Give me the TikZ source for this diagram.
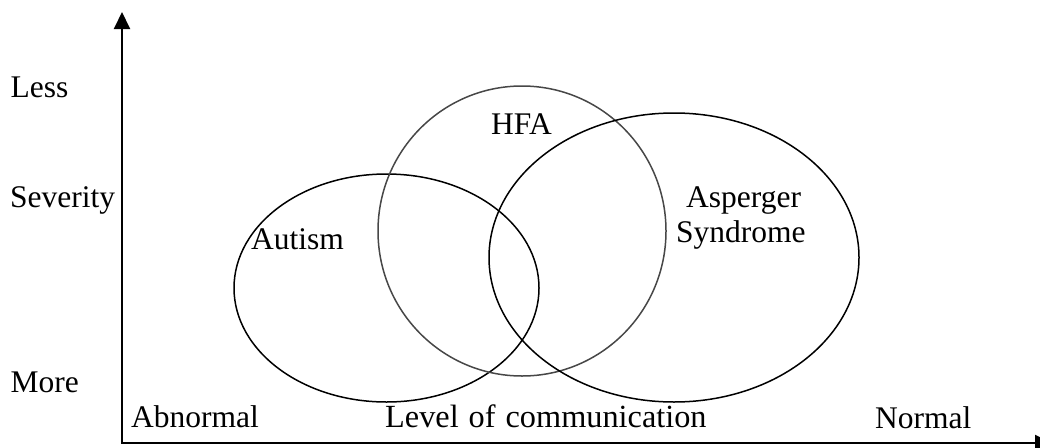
\documentclass[tikz,border=0pt]{standalone}
\usepackage{fontspec}
\setmainfont{Liberation Serif}
\usetikzlibrary{shapes.geometric,arrows.meta}
\begin{document}
\begin{tikzpicture}[x=1pt,y=-1pt,
  lbl/.style={anchor=base west,inner sep=0pt,font=\fontsize{31.5}{35}\selectfont},
  set/.style={ellipse,draw,line width=1.5pt,inner sep=0pt},
  axis/.style={line width=2pt,-{Triangle[width=16pt,length=17pt]}}]
\useasboundingbox (0,0) rectangle (1040,447);
\coordinate (origin) at (122,443);
\coordinate (ytop) at (122,12);
\coordinate (xend) at (1052,443);
\draw[axis] (origin.center) -- (ytop);
\draw[axis] ([xshift=-1pt]origin.center) -- (xend);
\node[set,minimum width=305pt,minimum height=228pt] (autism) at (386.5,288) {};
\node[set,draw=black!72,minimum width=288pt,minimum height=290pt] (hfa) at (522,231) {};
\node[set,minimum width=370pt,minimum height=289pt] (asp) at (674,257.5) {};
\node[lbl] (less) at (10.5,97) {Less};
\node[lbl] (sev) at (10,207) {Severity};
\node[lbl] (more) at (10.5,392) {More};
\node[lbl] (abn) at (131,427) {Abnormal};
\node[lbl] (loc) at (385,427) {\fontsize{32.3}{35}\selectfont Level\hspace{10pt}of\hspace{10pt}communication};
\node[lbl] (norm) at (875,428) {Normal};
\node[lbl] (hfat) at (491,134) {HFA};
\node[lbl] (aut) at (251,249) {Autism};
\node[lbl] (asp1) at (686,207) {Asperger};
\node[lbl] (asp2) at (676,242) {Syndrome};
\end{tikzpicture}
\end{document}
